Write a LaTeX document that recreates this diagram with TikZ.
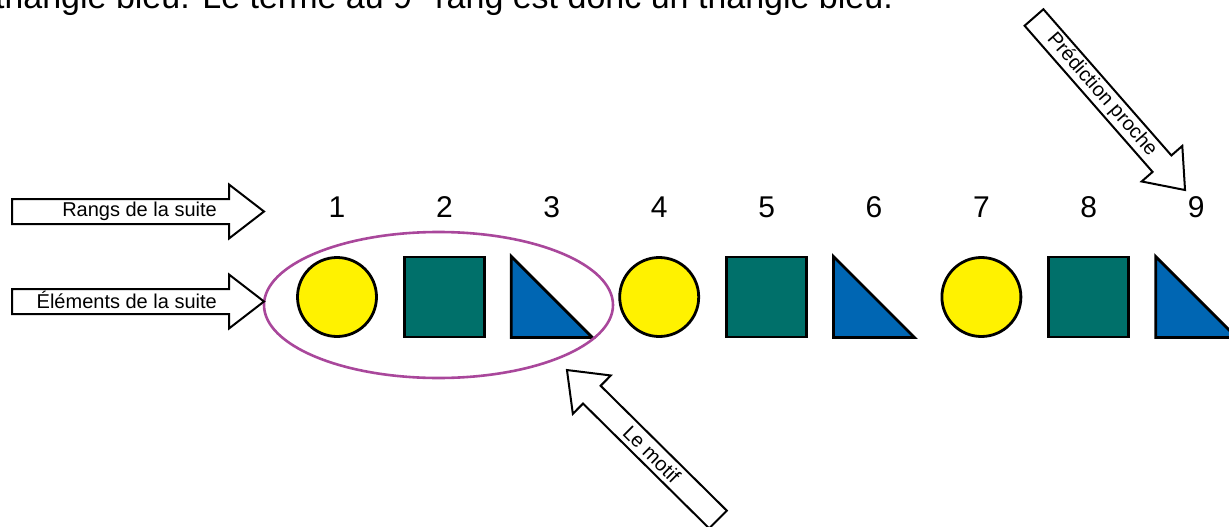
\documentclass[tikz,border=0pt]{standalone}
\usepackage{fontspec}
\setmainfont{Liberation Sans}
\usetikzlibrary{shapes.geometric}
\definecolor{suiteyellow}{HTML}{FFF200}
\definecolor{suiteteal}{HTML}{00706A}
\definecolor{suiteblue}{HTML}{0066B3}
\definecolor{motifpurple}{HTML}{A9479B}
\begin{document}
\begin{tikzpicture}[x=1pt,y=1pt,
  shapeline/.style={draw=black,line width=2.8pt,line join=miter},
  roundshape/.style={shapeline,circle,fill=suiteyellow,minimum size=79pt,inner sep=0pt},
  squareshape/.style={shapeline,rectangle,fill=suiteteal,minimum size=80pt,inner sep=0pt},
  triangleshape/.style={shapeline,fill=suiteblue},
  rank/.style={font=\fontsize{30}{30}\selectfont,inner sep=0pt},
  blockarrow/.style={draw=black,line width=2pt,fill=white,line join=miter},
  arrowlabel/.style={font=\fontsize{20}{20}\selectfont,inner sep=0pt},
  motifring/.style={draw=motifpurple,line width=2.6pt,ellipse,inner sep=0pt}
]
\clip (0,0) rectangle (1229,-527);

% sentence running above the figure
\node[anchor=base east,inner sep=0pt,font=\fontsize{34}{34}\selectfont] (caption) at (893,-9)
  {triangle bleu. Le terme au 9\textsuperscript{e} rang est donc un triangle bleu.};

% ranks of the sequence
\foreach \i in {1,...,9}{
  \node[rank] (r\i) at ({337+107.4*(\i-1)},-207) {\i};
}

% elements of the sequence: circle, square, triangle, repeated
\foreach \i in {1,4,7}{
  \node[roundshape] (e\i) at ({337+107.4*(\i-1)},-297) {};
}
\foreach \i in {2,5,8}{
  \node[squareshape] (e\i) at ({337+107.4*(\i-1)},-297) {};
}
\foreach \i in {3,6,9}{
  \draw[triangleshape] ({337+107.4*(\i-1)-40.5},-256.5) -- ++(0,-81) -- ++(81,0) -- cycle;
}

% the repeating pattern
\node[motifring,minimum width=349pt,minimum height=146pt] (motif) at (438.5,-305) {};

% block arrow: rangs
\draw[blockarrow] (12,-199) -- (229,-199) -- (229,-184.5) -- (264,-211.5)
  -- (229,-238.5) -- (229,-224) -- (12,-224) -- cycle;
\node[arrowlabel,anchor=base east] (lblrangs) at (217,-216.5) {Rangs de la suite};

% block arrow: elements
\draw[blockarrow] (12,-289) -- (229,-289) -- (229,-274.5) -- (264,-301.5)
  -- (229,-328.5) -- (229,-314) -- (12,-314) -- cycle;
\node[arrowlabel,anchor=base east] (lblelem) at (217,-308) {Éléments de la suite};

% block arrow: near prediction
\begin{scope}[shift={(1034,-17.5)},rotate=-48.8]
  \draw[blockarrow] (0,-12.5) -- (194.3,-12.5) -- (194.3,-27) -- (229.3,0)
    -- (194.3,27) -- (194.3,12.5) -- (0,12.5) -- cycle;
  \node[arrowlabel,rotate=-48.8] (lblpred) at (103,0) {Prédiction proche};
\end{scope}

% block arrow: pattern
\begin{scope}[shift={(718,-519.5)},rotate=135.3]
  \draw[blockarrow] (0,-12.5) -- (177.5,-12.5) -- (177.5,-27) -- (212.5,0)
    -- (177.5,27) -- (177.5,12.5) -- (0,12.5) -- cycle;
  \node[arrowlabel,rotate=-44.7] (lblmotif) at (93,0) {Le motif};
\end{scope}
\end{tikzpicture}
\end{document}
